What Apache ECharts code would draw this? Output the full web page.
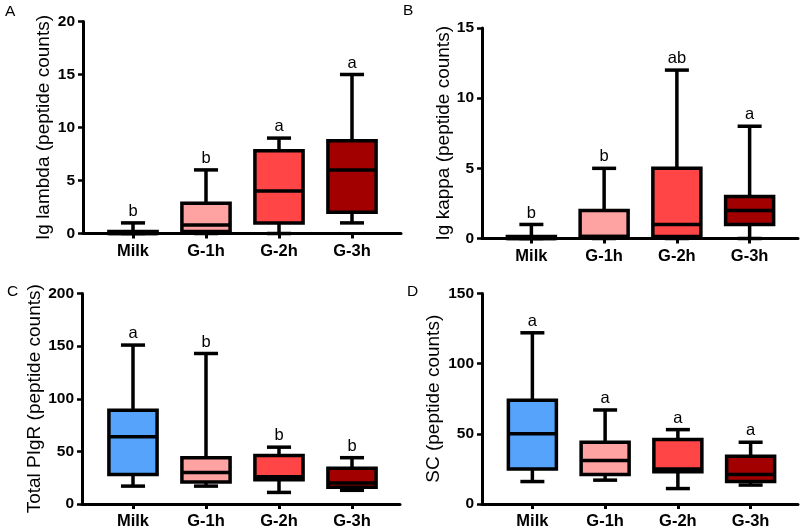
<!DOCTYPE html>
<html>
<head>
<meta charset="utf-8">
<script src="https://cdn.jsdelivr.net/npm/echarts@6/dist/echarts.min.js"></script>
<style>html,body{margin:0;padding:0;background:#fff;}#c{width:800px;height:528px;}</style>
</head>
<body>
<div id="c"></div>
<script>
// Categories and box colours
const categories = ['Milk', 'G-1h', 'G-2h', 'G-3h'];
const boxColors = ['#55A3FA', '#FFA2A2', '#FF4545', '#A20000'];

// Each entry: [min, Q1, median, Q3, max]
const igLambda = [[0, 0, 0, 0.2, 1], [0, 0.2, 0.8, 2.85, 6], [0, 1, 4, 7.8, 9], [1, 2, 6, 8.75, 15]];
const igLambdaLetters = ['b', 'b', 'a', 'a'];

const igKappa = [[0, 0, 0, 0.15, 1], [0, 0.15, 0.15, 2, 5], [0, 0.15, 1, 5, 12], [0, 1, 2, 3, 8]];
const igKappaLetters = ['b', 'b', 'ab', 'a'];

const totalPigr = [[17, 28, 64, 89, 151], [17, 21, 30, 44, 143], [11, 23, 26, 46, 54], [13, 16, 20, 34, 44]];
const totalPigrLetters = ['a', 'b', 'b', 'b'];

const sc = [[16, 25, 50, 74, 122], [17, 21, 31, 44, 67], [11, 23, 25, 46, 53], [13.5, 16, 21, 34, 44]];
const scLetters = ['a', 'a', 'a', 'a'];

// Axis settings
const yTitles = ['Ig lambda (peptide counts)', 'Ig kappa (peptide counts)', 'Total PIgR (peptide counts)', 'SC (peptide counts)'];
const yMax = [20, 15, 200, 150];
const yInterval = [5, 5, 50, 50];
const panelLetters = ['A', 'B', 'C', 'D'];

const FONT = '"Liberation Sans", Arial, sans-serif';

const panels = [
  { stats: igLambda, letters: igLambdaLetters, frame: { left: 83, top: 21.5, width: 318, height: 212 }, plot: { left: 96.5, width: 292 }, nameGap: 30 },
  { stats: igKappa, letters: igKappaLetters, frame: { left: 482, top: 28, width: 316, height: 210.5 }, plot: { left: 495, width: 291 }, nameGap: 29 },
  { stats: totalPigr, letters: totalPigrLetters, frame: { left: 82, top: 293.5, width: 318, height: 210.5 }, plot: { left: 96.5, width: 292 }, nameGap: 37 },
  { stats: sc, letters: scLetters, frame: { left: 482, top: 293.5, width: 316, height: 210.5 }, plot: { left: 496, width: 291 }, nameGap: 39 }
];

function makeRender(letters) {
  return function (params, api) {
    const x = api.value(0);
    const ys = [1, 2, 3, 4, 5].map(function (d) { return api.coord([x, api.value(d)])[1]; });
    const cx = api.coord([x, 0])[0];
    const band = api.size([1, 0])[0];
    const bw = band * 0.66;
    const cw = band * 0.33;
    const lw = 3.5;
    const stroke = { stroke: '#000', lineWidth: lw };
    const yMin = ys[0], yQ1 = ys[1], yMed = ys[2], yQ3 = ys[3], yTop = ys[4];
    const idx = params.dataIndex;
    return {
      type: 'group',
      children: [
        { type: 'line', shape: { x1: cx, y1: yQ3, x2: cx, y2: yTop }, style: stroke },
        { type: 'line', shape: { x1: cx, y1: yQ1, x2: cx, y2: yMin }, style: stroke },
        { type: 'line', shape: { x1: cx - cw / 2, y1: yTop, x2: cx + cw / 2, y2: yTop }, style: stroke },
        { type: 'line', shape: { x1: cx - cw / 2, y1: yMin, x2: cx + cw / 2, y2: yMin }, style: stroke },
        { type: 'rect', shape: { x: cx - bw / 2, y: yQ3, width: bw, height: Math.max(yQ1 - yQ3, 0) },
          style: { fill: boxColors[idx], stroke: '#000', lineWidth: lw } },
        { type: 'line', shape: { x1: cx - bw / 2, y1: yMed, x2: cx + bw / 2, y2: yMed }, style: stroke },
        { type: 'text', x: cx, y: yTop - 3,
          style: { text: letters[idx], fill: '#000', font: '16.5px ' + FONT, textAlign: 'center', textVerticalAlign: 'bottom' } }
      ]
    };
  };
}

const grid = [], xAxis = [], yAxis = [], series = [];
panels.forEach(function (p, i) {
  const gFrame = grid.length;
  grid.push({ left: p.frame.left, top: p.frame.top, width: p.frame.width, height: p.frame.height, outerBoundsMode: 'none', containLabel: false });
  const gPlot = grid.length;
  grid.push({ left: p.plot.left, top: p.frame.top, width: p.plot.width, height: p.frame.height, outerBoundsMode: 'none', containLabel: false });

  xAxis.push({
    gridIndex: gFrame, type: 'category', data: categories, position: 'bottom',
    axisLine: { show: true, onZero: false, lineStyle: { color: '#000', width: 3 } },
    axisTick: { show: false }, axisLabel: { show: false }, splitLine: { show: false }
  });
  xAxis.push({
    gridIndex: gPlot, type: 'category', data: categories, boundaryGap: true, position: 'bottom',
    axisLine: { show: false, onZero: false },
    axisTick: { show: true, alignWithLabel: true, interval: 0, length: 5, lineStyle: { color: '#000', width: 3 } },
    axisLabel: { show: true, interval: 0, margin: 9, color: '#000', fontSize: 16.5, fontWeight: 'bold', fontFamily: FONT },
    splitLine: { show: false }
  });
  yAxis.push({
    gridIndex: gFrame, type: 'value', min: 0, max: yMax[i], interval: yInterval[i], position: 'left',
    name: yTitles[i], nameLocation: 'middle', nameGap: p.nameGap,
    nameTextStyle: { color: '#000', fontSize: 19, fontFamily: FONT },
    axisLine: { show: true, onZero: false, lineStyle: { color: '#000', width: 3 } },
    axisTick: { show: true, length: 5, lineStyle: { color: '#000', width: 2.5 } },
    axisLabel: { margin: 8, color: '#000', fontSize: 15.5, fontWeight: 'bold', fontFamily: FONT },
    splitLine: { show: false }
  });
  yAxis.push({
    gridIndex: gPlot, type: 'value', min: 0, max: yMax[i], interval: yInterval[i], show: false, splitLine: { show: false }
  });

  series.push({
    type: 'custom', xAxisIndex: gPlot, yAxisIndex: gPlot, clip: false,
    renderItem: makeRender(p.letters),
    encode: { x: 0, y: [1, 2, 3, 4, 5] },
    data: p.stats.map(function (s, k) { return [k].concat(s); }),
    z: 5
  });
});

const chart = echarts.init(document.getElementById('c'), null, { renderer: 'canvas' });
chart.setOption({
  animation: false,
  backgroundColor: '#fff',
  grid: grid, xAxis: xAxis, yAxis: yAxis, series: series,
  graphic: [
    { type: 'text', left: 5, top: 4, style: { text: panelLetters[0], font: '15.5px ' + FONT, fill: '#000' } },
    { type: 'text', left: 403, top: 3, style: { text: panelLetters[1], font: '15.5px ' + FONT, fill: '#000' } },
    { type: 'text', left: 7, top: 284, style: { text: panelLetters[2], font: '15.5px ' + FONT, fill: '#000' } },
    { type: 'text', left: 407, top: 284, style: { text: panelLetters[3], font: '15.5px ' + FONT, fill: '#000' } }
  ]
});
</script>
</body>
</html>
